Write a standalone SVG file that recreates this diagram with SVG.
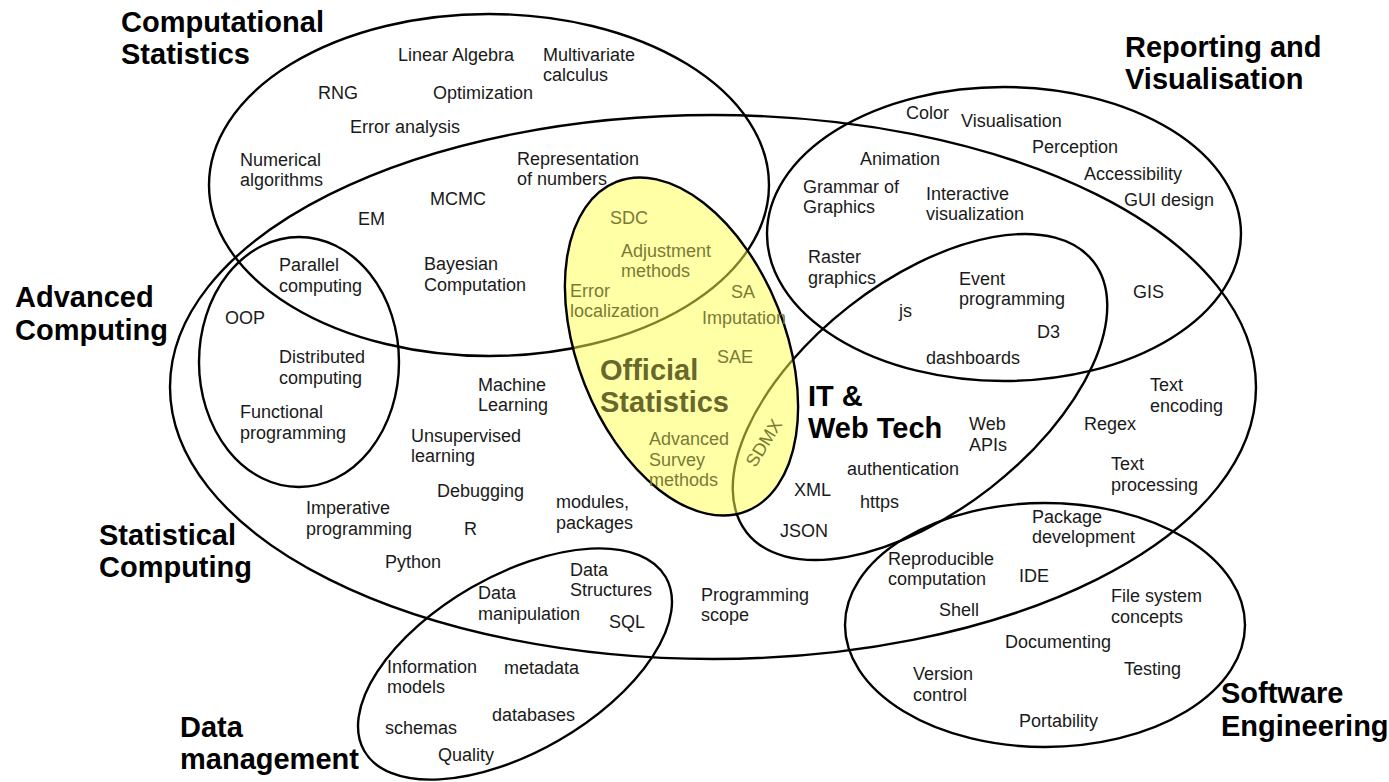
<svg xmlns="http://www.w3.org/2000/svg" width="1389" height="782" viewBox="0 0 1389 782">
<style>
.ring{fill:none;stroke:#000;stroke-width:2.4}
.os{fill:#ffff4d;fill-opacity:0.5;stroke:#000;stroke-width:2.4}
.t{font-family:"Liberation Sans",Arial,sans-serif;font-size:18px;fill:#1a1a1a}
.h{font-family:"Liberation Sans",Arial,sans-serif;font-size:29px;font-weight:bold;fill:#000}
.o{font-family:"Liberation Sans",Arial,sans-serif;font-size:18px;fill:#7a7a36}
.oh{font-family:"Liberation Sans",Arial,sans-serif;font-size:29px;font-weight:bold;fill:#68682c}
</style>
<rect width="1389" height="782" fill="#fff"/>
<g id="connectors"/>
<g id="computational-statistics">
<ellipse class="ring" cx="489" cy="185" rx="280" ry="171"/>
<text class="h" x="121" y="32">Computational</text>
<text class="h" x="121" y="64">Statistics</text>
</g>
<g id="statistical-computing">
<ellipse class="ring" cx="713" cy="387" rx="543" ry="272"/>
<text class="h" x="99" y="545">Statistical</text>
<text class="h" x="99" y="577">Computing</text>
</g>
<g id="reporting-visualisation">
<ellipse class="ring" cx="1004" cy="234" rx="237" ry="147"/>
<text class="h" x="1125" y="57">Reporting and</text>
<text class="h" x="1125" y="89">Visualisation</text>
</g>
<g id="advanced-computing">
<ellipse class="ring" cx="299" cy="362" rx="100" ry="125"/>
<text class="h" x="15" y="307">Advanced</text>
<text class="h" x="15" y="340">Computing</text>
</g>
<g id="it-web-tech">
<ellipse class="ring" cx="920" cy="397" rx="220" ry="115" transform="rotate(-38 920 397)"/>
<text class="h" x="808" y="406">IT &amp;</text>
<text class="h" x="808" y="438">Web Tech</text>
</g>
<g id="software-engineering">
<ellipse class="ring" cx="1045" cy="625" rx="200" ry="122"/>
<text class="h" x="1221" y="703">Software</text>
<text class="h" x="1221" y="736">Engineering</text>
</g>
<g id="data-management">
<ellipse class="ring" cx="515" cy="664" rx="174" ry="88" transform="rotate(-30 515 664)"/>
<text class="h" x="180" y="737">Data</text>
<text class="h" x="180" y="769">management</text>
</g>
<g id="official-statistics">
<ellipse class="os" cx="681.5" cy="346.5" rx="104" ry="177" transform="rotate(-21.6 681.5 346.5)"/>
<text class="oh" x="600" y="380">Official</text>
<text class="oh" x="600" y="412">Statistics</text>
<text class="o" x="610" y="224">SDC</text>
<text class="o" x="621" y="257">Adjustment</text>
<text class="o" x="621" y="277">methods</text>
<text class="o" x="570" y="297">Error</text>
<text class="o" x="570" y="317">localization</text>
<text class="o" x="731" y="298">SA</text>
<text class="o" x="702" y="324">Imputation</text>
<text class="o" x="717" y="363">SAE</text>
<text class="o" x="649" y="445">Advanced</text>
<text class="o" x="649" y="466">Survey</text>
<text class="o" x="649" y="486">methods</text>
<text class="o" x="764" y="449" text-anchor="middle" transform="rotate(-58 764 443)">SDMX</text>
</g>
<g id="terms">
<text class="t" x="398" y="61">Linear Algebra</text>
<text class="t" x="543" y="61">Multivariate</text>
<text class="t" x="543" y="81">calculus</text>
<text class="t" x="318" y="99">RNG</text>
<text class="t" x="433" y="99">Optimization</text>
<text class="t" x="350" y="133">Error analysis</text>
<text class="t" x="240" y="166">Numerical</text>
<text class="t" x="240" y="186">algorithms</text>
<text class="t" x="517" y="165">Representation</text>
<text class="t" x="517" y="185">of numbers</text>
<text class="t" x="430" y="205">MCMC</text>
<text class="t" x="358" y="225">EM</text>
<text class="t" x="279" y="271">Parallel</text>
<text class="t" x="279" y="292">computing</text>
<text class="t" x="424" y="270">Bayesian</text>
<text class="t" x="424" y="291">Computation</text>
<text class="t" x="225" y="324">OOP</text>
<text class="t" x="279" y="363">Distributed</text>
<text class="t" x="279" y="384">computing</text>
<text class="t" x="240" y="418">Functional</text>
<text class="t" x="240" y="439">programming</text>
<text class="t" x="478" y="391">Machine</text>
<text class="t" x="478" y="411">Learning</text>
<text class="t" x="411" y="442">Unsupervised</text>
<text class="t" x="411" y="462">learning</text>
<text class="t" x="437" y="497">Debugging</text>
<text class="t" x="306" y="514">Imperative</text>
<text class="t" x="306" y="535">programming</text>
<text class="t" x="464" y="535">R</text>
<text class="t" x="556" y="508">modules,</text>
<text class="t" x="556" y="529">packages</text>
<text class="t" x="385" y="568">Python</text>
<text class="t" x="478" y="599">Data</text>
<text class="t" x="478" y="620">manipulation</text>
<text class="t" x="570" y="576">Data</text>
<text class="t" x="570" y="596">Structures</text>
<text class="t" x="609" y="628">SQL</text>
<text class="t" x="387" y="673">Information</text>
<text class="t" x="387" y="693">models</text>
<text class="t" x="504" y="674">metadata</text>
<text class="t" x="492" y="721">databases</text>
<text class="t" x="385" y="734">schemas</text>
<text class="t" x="438" y="761">Quality</text>
<text class="t" x="701" y="601">Programming</text>
<text class="t" x="701" y="621">scope</text>
<text class="t" x="906" y="119">Color</text>
<text class="t" x="961" y="127">Visualisation</text>
<text class="t" x="1032" y="153">Perception</text>
<text class="t" x="860" y="165">Animation</text>
<text class="t" x="1084" y="180">Accessibility</text>
<text class="t" x="803" y="193">Grammar of</text>
<text class="t" x="803" y="213">Graphics</text>
<text class="t" x="926" y="200">Interactive</text>
<text class="t" x="926" y="220">visualization</text>
<text class="t" x="1124" y="206">GUI design</text>
<text class="t" x="808" y="263">Raster</text>
<text class="t" x="808" y="284">graphics</text>
<text class="t" x="959" y="285">Event</text>
<text class="t" x="959" y="305">programming</text>
<text class="t" x="1133" y="298">GIS</text>
<text class="t" x="899" y="317">js</text>
<text class="t" x="1037" y="338">D3</text>
<text class="t" x="926" y="364">dashboards</text>
<text class="t" x="1150" y="391">Text</text>
<text class="t" x="1150" y="412">encoding</text>
<text class="t" x="969" y="430">Web</text>
<text class="t" x="969" y="451">APIs</text>
<text class="t" x="1084" y="430">Regex</text>
<text class="t" x="847" y="475">authentication</text>
<text class="t" x="794" y="496">XML</text>
<text class="t" x="860" y="508">https</text>
<text class="t" x="1111" y="470">Text</text>
<text class="t" x="1111" y="491">processing</text>
<text class="t" x="780" y="537">JSON</text>
<text class="t" x="1032" y="523">Package</text>
<text class="t" x="1032" y="543">development</text>
<text class="t" x="888" y="565">Reproducible</text>
<text class="t" x="888" y="585">computation</text>
<text class="t" x="1019" y="582">IDE</text>
<text class="t" x="1111" y="602">File system</text>
<text class="t" x="1111" y="623">concepts</text>
<text class="t" x="939" y="616">Shell</text>
<text class="t" x="1005" y="648">Documenting</text>
<text class="t" x="1124" y="675">Testing</text>
<text class="t" x="913" y="680">Version</text>
<text class="t" x="913" y="701">control</text>
<text class="t" x="1019" y="727">Portability</text>
</g>
</svg>
